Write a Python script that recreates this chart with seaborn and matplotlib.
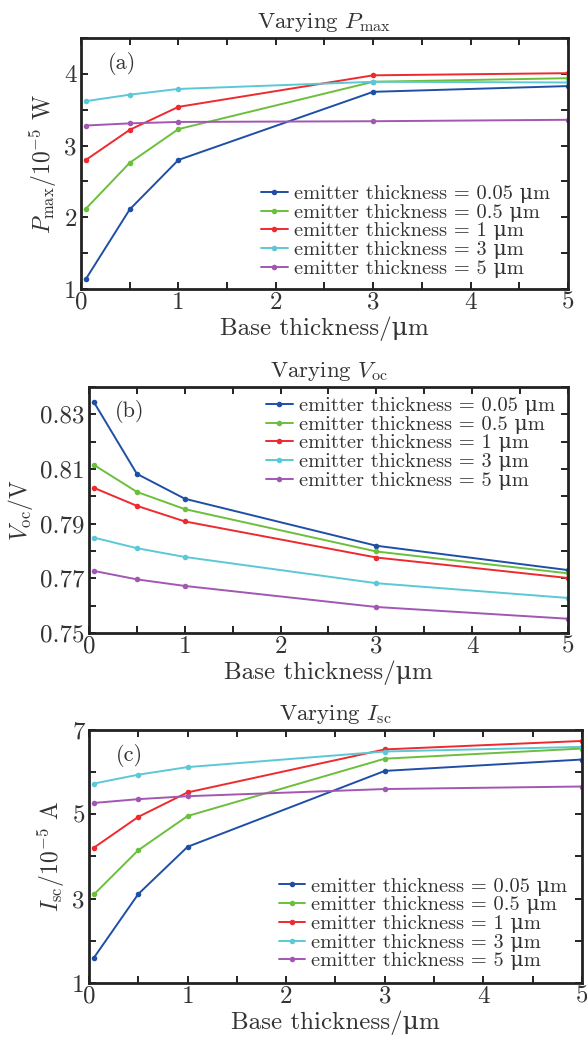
import numpy as np
import pandas as pd
import matplotlib
matplotlib.use("Agg")
import matplotlib.pyplot as plt
from matplotlib.ticker import MultipleLocator, FixedLocator
import seaborn as sns

# Base thickness (um) sampled for every emitter thickness
base_thickness = [0.05, 0.5, 1, 3, 5]
emitter_labels = [
    "emitter thickness = 0.05 μm",
    "emitter thickness = 0.5 μm",
    "emitter thickness = 1 μm",
    "emitter thickness = 3 μm",
    "emitter thickness = 5 μm",
]
series_colors = ["#1f4fa5", "#6cbf3c", "#ee2a2e", "#5cc8d6", "#a257b2"]

# Maximum power, 1e-5 W
pmax_005 = [1.14, 2.11, 2.80, 3.75, 3.83]
pmax_05 = [2.12, 2.76, 3.23, 3.89, 3.94]
pmax_1 = [2.80, 3.22, 3.54, 3.98, 4.01]
pmax_3 = [3.62, 3.71, 3.79, 3.89, 3.88]
pmax_5 = [3.28, 3.31, 3.33, 3.34, 3.36]

# Open-circuit voltage, V
voc_005 = [0.8345, 0.8082, 0.7991, 0.7819, 0.7730]
voc_05 = [0.8115, 0.8016, 0.7953, 0.7798, 0.7718]
voc_1 = [0.8031, 0.7965, 0.7908, 0.7776, 0.7701]
voc_3 = [0.7849, 0.7810, 0.7778, 0.7682, 0.7628]
voc_5 = [0.7727, 0.7696, 0.7672, 0.7595, 0.7552]

# Short-circuit current, 1e-5 A
isc_005 = [1.60, 3.11, 4.23, 6.03, 6.30]
isc_05 = [3.10, 4.15, 4.96, 6.32, 6.56]
isc_1 = [4.21, 4.94, 5.52, 6.54, 6.74]
isc_3 = [5.73, 5.94, 6.12, 6.49, 6.60]
isc_5 = [5.27, 5.36, 5.43, 5.60, 5.66]


def long_frame(columns):
    rows = []
    for label, values in zip(emitter_labels, columns):
        for x, y in zip(base_thickness, values):
            rows.append({"base": x, "value": y, "emitter": label})
    return pd.DataFrame(rows)


sns.set_theme(style="ticks")
plt.rcParams["font.family"] = ["cmr10", "DejaVu Serif"]
plt.rcParams["mathtext.fontset"] = "cm"
plt.rcParams["axes.formatter.use_mathtext"] = True
plt.rcParams["axes.unicode_minus"] = False

fig = plt.figure(figsize=(5.87, 10.39), dpi=100)
fig.patch.set_facecolor("white")

panels = [
    dict(rect=[0.138, 0.7218, 0.8296, 0.2416],
         data=[pmax_005, pmax_05, pmax_1, pmax_3, pmax_5],
         title=r"Varying $P_{\rm max}$",
         ylabel=r"$P_{\rm max}/10^{-5}$ W",
         ylim=(1, 4.5), major=[1, 2, 3, 4], minor=0.5, fmt="{:g}",
         tag="(a)",
         legend=dict(loc="lower left", bbox_to_anchor=(0.37, 0.045))),
    dict(rect=[0.1516, 0.3908, 0.816, 0.2368],
         data=[voc_005, voc_05, voc_1, voc_3, voc_5],
         title=r"Varying $V_{\rm oc}$",
         ylabel=r"$V_{\rm oc}$/V",
         ylim=(0.75, 0.84), major=[0.75, 0.77, 0.79, 0.81, 0.83], minor=0.01,
         fmt="{:.2f}", tag="(b)",
         legend=dict(loc="upper left", bbox_to_anchor=(0.37, 0.96))),
    dict(rect=[0.1516, 0.0539, 0.8399, 0.2435],
         data=[isc_005, isc_05, isc_1, isc_3, isc_5],
         title=r"Varying $I_{\rm sc}$",
         ylabel=r"$I_{\rm sc}/10^{-5}$ A",
         ylim=(1, 7), major=[1, 3, 5, 7], minor=1, fmt="{:g}",
         tag="(c)",
         legend=dict(loc="lower left", bbox_to_anchor=(0.385, 0.05))),
]

text_color = "#333333"

for p in panels:
    ax = fig.add_axes(p["rect"])
    df = long_frame(p["data"])
    sns.lineplot(data=df, x="base", y="value", hue="emitter",
                 hue_order=emitter_labels, palette=series_colors,
                 marker="o", markersize=4, markeredgewidth=0,
                 linewidth=1.4, ax=ax, legend=True)
    ax.set_xlim(0, 5)
    ax.set_ylim(*p["ylim"])
    ax.xaxis.set_major_locator(FixedLocator([0, 1, 2, 3, 4, 5]))
    ax.xaxis.set_minor_locator(MultipleLocator(0.5))
    ax.yaxis.set_major_locator(FixedLocator(p["major"]))
    ax.yaxis.set_minor_locator(MultipleLocator(p["minor"]))
    ax.set_xticklabels([str(v) for v in [0, 1, 2, 3, 4, 5]])
    ax.set_yticklabels([p["fmt"].format(v) for v in p["major"]])
    ax.tick_params(which="both", direction="in", top=True, right=True,
                   width=1.4, color="#222222", labelsize=18,
                   labelcolor=text_color)
    ax.tick_params(axis="x", pad=2)
    ax.tick_params(axis="y", pad=3)
    ax.tick_params(which="major", length=5)
    ax.tick_params(which="minor", length=5)
    for s in ax.spines.values():
        s.set_linewidth(2.0)
        s.set_color("#222222")
    ax.set_xlabel("Base thickness/μm", fontsize=18, color=text_color,
                  labelpad=2)
    ax.set_ylabel(p["ylabel"], fontsize=17, color=text_color, labelpad=4)
    ax.set_title(p["title"], fontsize=16.5, color=text_color, pad=7)
    ax.text(0.055, 0.90, p["tag"], transform=ax.transAxes, fontsize=16,
            color=text_color, va="center", ha="left")
    ax.grid(False)
    leg = ax.legend(frameon=False, fontsize=14.7, handlelength=1.3,
                    handletextpad=0.3, labelspacing=0.02, borderpad=0,
                    borderaxespad=0, **p["legend"])
    for t in leg.get_texts():
        t.set_color(text_color)

fig.savefig("out.png", dpi=100, facecolor="white")
